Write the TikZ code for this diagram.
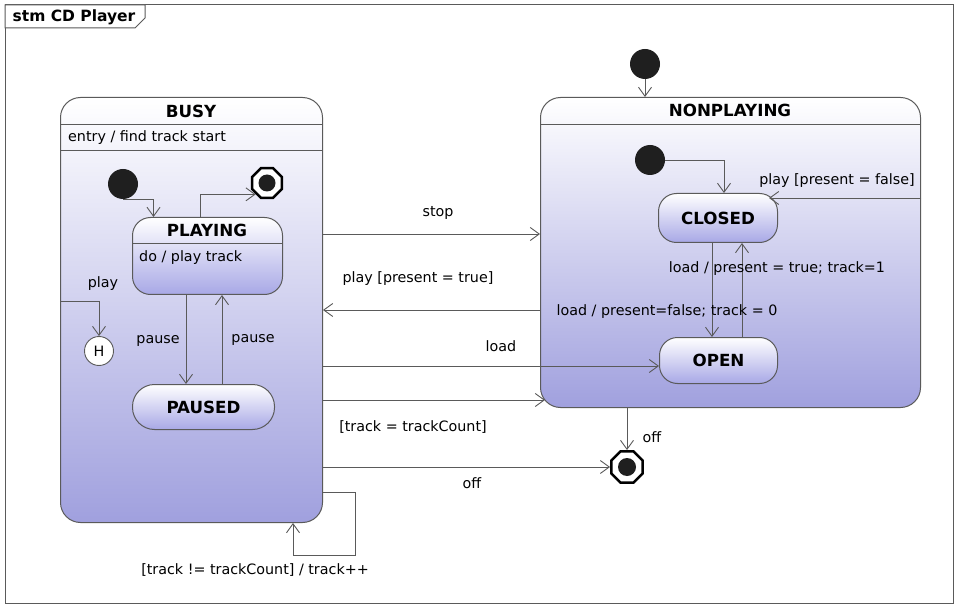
\documentclass[tikz,border=0pt]{standalone}
\usepackage{fontspec}
\setmainfont{DejaVu Sans}
\usetikzlibrary{arrows.meta,shapes.geometric,calc}
\definecolor{lav}{RGB}{160,160,222}
\definecolor{lavs}{RGB}{168,168,230}
\definecolor{edgec}{RGB}{90,90,90}
\begin{document}
\begin{tikzpicture}[x=1pt,y=-1pt,
  every node/.style={font=\fontsize{14.3}{17}\selectfont, inner sep=0pt},
  ttl/.style={font=\fontsize{16.7}{20}\selectfont\bfseries},
  compst/.style={draw=edgec, line width=1pt, rounded corners=20pt, top color=white, bottom color=lav, anchor=north west},
  simplest/.style={draw=edgec, line width=1pt, rounded corners=18pt, top color=white, bottom color=lavs, anchor=north west, font=\fontsize{16.7}{20}\selectfont\bfseries},
  stinit/.style={circle, fill=black!88, minimum size=30pt},
  stfinal/.style={regular polygon, regular polygon sides=8, draw=black, line width=2.5pt, fill=white, minimum size=34pt},
  sthist/.style={circle, draw=edgec, line width=0.9pt, fill=white, minimum size=29pt},
  tr/.style={draw=edgec, line width=0.9pt, -{Straight Barb[length=9pt,width=13pt]}},
  sep/.style={draw=edgec, line width=1pt},
]
\useasboundingbox (0,0) rectangle (960,609);
\fill[white] (0,0) rectangle (960,609);
% frame
\draw[edgec, line width=1pt] (5,5) rectangle (953,603);
\draw[edgec, line width=1pt, fill=white] (5,5) -- (145,5) -- (145,18) -- (135,28) -- (5,28) -- cycle;
\node[font=\fontsize{15.5}{18}\selectfont\bfseries] (frameT) at (74,17) {stm CD Player};

% composite states
\node[compst, minimum width=262pt, minimum height=425pt] (busy) at (60,97) {};
\node[compst, minimum width=380pt, minimum height=310pt] (np) at (540,97) {};
\node[ttl] (busyT) at (191,111) {BUSY};
\draw[sep] (busy.west |- 0,125) -- (busy.east |- 0,125);
\node[anchor=west] (busyE) at (68,138) {entry / find track start};
\draw[sep] (busy.west |- 0,151) -- (busy.east |- 0,151);
\node[ttl] (npT) at (730,110) {NONPLAYING};
\draw[sep] (np.west |- 0,125) -- (np.east |- 0,125);

% simple states
\node[simplest, minimum width=150pt, minimum height=77pt] (playing) at (132,217) {};
\node[ttl] (playingT) at (207,230) {PLAYING};
\draw[sep] (playing.west |- 0,244) -- (playing.east |- 0,244);
\node[anchor=west] (playingD) at (139,258) {do / play track};
\node[simplest, rounded corners=22pt, minimum width=142pt, minimum height=45pt] (paused) at (132,384) {PAUSED};
\node[simplest, minimum width=119pt, minimum height=49pt] (closed) at (658,193) {CLOSED};
\node[simplest, minimum width=118pt, minimum height=46pt] (open) at (659,337) {OPEN};

% pseudo states
\node[stinit] (i1) at (123,184) {};
\node[stinit] (i2) at (645,64) {};
\node[stinit] (i3) at (650,160) {};
\node[stfinal, minimum size=32pt] (f1) at (267,183) {};
\fill[black!88] (f1) circle (8.5pt);
\node[stfinal] (f2) at (627,467) {};
\fill[black!88] (f2) circle (9pt);
\node[sthist] (h) at (99,351) {H};

\coordinate (tcEnd) at (545,400);
\coordinate (cpf) at (769,198);
\coordinate (loopc) at (355,555);

% transitions inside BUSY
\draw[tr] (i1.south) -| ([xshift=-54pt]playing.north);
\draw[tr] ([xshift=-7pt]playing.north) |- (f1.225);
\draw[tr] (busy.west |- 0,301) -| (h.north);
\draw[tr] (playing.south -| 186,0) -- (paused.north -| 186,0);
\draw[tr] (paused.north -| 222,0) -- (playing.south -| 222,0);

% transitions between
\draw[tr] (busy.east |- 0,234) -- (np.west |- 0,234);
\draw[tr] (np.west |- 0,310) -- (busy.east |- 0,310);
\draw[tr] (busy.east |- 0,366) -- (open.west |- 0,366);
\draw[tr] (busy.east |- 0,400) -- (tcEnd);
\draw[tr] (f2 |- np.south) -- (f2.north);
\draw[tr] (busy.east |- f2) -- (f2.west);
\draw[tr] (busy.east |- 0,492) -| (loopc) -| ([xshift=-30pt]busy.south east);

% NONPLAYING inside
\draw[tr] (i2.south) -- (i2.south |- np.north);
\draw[tr] (i3.east) -| ([xshift=6pt]closed.north);
\draw[tr] (np.east |- 0,198) -- (cpf);
\draw[tr] (closed.south -| 712,0) -- (open.north -| 712,0);
\draw[tr] (open.north -| 742,0) -- (closed.south -| 742,0);

% labels
\node (lStop) at (438,213) {stop};
\node (lPlayT) at (418,279) {play [present = true]};
\node (lLoad) at (501,346) {load};
\node (lTC) at (413,427) {[track = trackCount]};
\node (lOff1) at (652,437) {off};
\node (lOff2) at (472,483) {off};
\node (lLoop) at (255,570) {[track != trackCount] / track++};
\node (lPlayF) at (837,181) {play [present = false]};
\node (lLoadT) at (777,269) {load / present = true; track=1};
\node (lLoadF) at (667,312) {load / present=false; track = 0};
\node (lPause1) at (158,341) {pause};
\node (lPause2) at (253,340) {pause};
\node (lPlay) at (103,284) {play};
\end{tikzpicture}
\end{document}
